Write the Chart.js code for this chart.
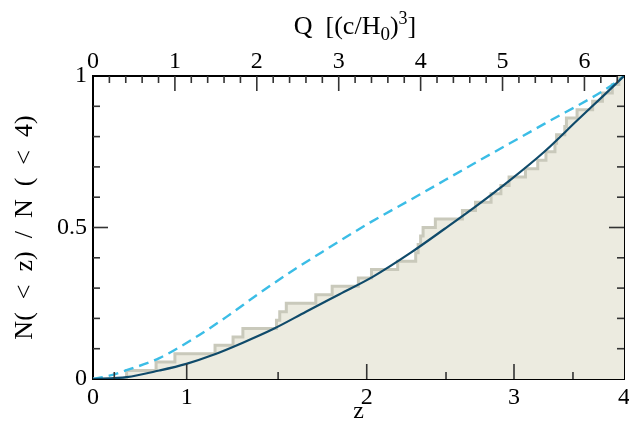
<!DOCTYPE html>
<html>
<head>
<meta charset="utf-8">
<script src="https://cdn.jsdelivr.net/npm/chart.js@4.4.1/dist/chart.umd.min.js"></script>
<style>
  html, body { margin: 0; padding: 0; background: #fff; }
  canvas { display: block; }
</style>
</head>
<body>
<canvas id="zchart" width="629" height="424"></canvas>
<script>
// x is linear in comoving volume Q; the z labels sit at Q(z)
const qMax = 6.483
const qTicks = [0, 1, 2, 3, 4, 5, 6]
const zTickLabels = ['0', '1', '2', '3', '4']
const zTickQ = [0, 1.144, 3.342, 5.14, 6.483]
const zMinorQ = [0.26, 2.26, 4.31, 5.86]
const yTicks = [0, 0.5, 1]
const yTickLabels = ['0', '0.5', '1']

// observed sample, cumulative fraction at each object
const stepQ = [0.41, 0.77, 1.00, 1.49, 1.71, 1.83, 2.24, 2.28, 2.36, 2.72, 2.92, 3.24,
  3.40, 3.72, 3.94, 3.97, 4.00, 4.03, 4.18, 4.51, 4.67, 4.86, 4.98, 5.08,
  5.28, 5.43, 5.53, 5.64, 5.66, 5.76, 5.78, 5.91, 6.10, 6.22, 6.34, 6.42]
const stepFrac = [0.028, 0.056, 0.083, 0.111, 0.139, 0.167, 0.194, 0.222, 0.25, 0.278, 0.306, 0.333,
  0.361, 0.389, 0.417, 0.444, 0.472, 0.5, 0.528, 0.556, 0.583, 0.611, 0.639, 0.667,
  0.694, 0.722, 0.75, 0.778, 0.806, 0.833, 0.861, 0.889, 0.917, 0.944, 0.972, 1]

// solid model curve
const solidQ = [0, 0.41, 0.81, 1.14, 1.47, 1.83, 2.20, 2.60, 3.01, 3.42, 3.88, 4.29, 4.69, 5.10, 5.51, 5.91, 6.24, 6.483]
const solidFrac = [0, 0.006, 0.028, 0.05, 0.08, 0.12, 0.165, 0.222, 0.28, 0.338, 0.417, 0.495, 0.573, 0.658, 0.75, 0.853, 0.937, 1]

// dashed model curve
const dashQ = [0, 0.2, 0.41, 0.81, 1.22, 1.63, 2.03, 2.44, 2.85, 3.38, 3.88, 4.69, 5.51, 6.32, 6.483]
const dashFrac = [0, 0.011, 0.029, 0.069, 0.132, 0.205, 0.283, 0.358, 0.428, 0.516, 0.592, 0.717, 0.842, 0.967, 1]

const serif = 'Liberation Serif'

const stepPts = [{x: 0, y: 0}]
stepQ.forEach((q, i) => stepPts.push({x: q, y: stepFrac[i]}))
stepPts.push({x: qMax, y: stepFrac[stepFrac.length - 1]})

const zip = (xs, ys) => xs.map((x, i) => ({x: x, y: ys[i]}))

// fixed box sizes so the plot area lands where it is in the picture
const boxSize = (w, h) => scale => {
  if (w != null) scale.width = w
  if (h != null) scale.height = h
  scale.paddingLeft = scale.paddingRight = scale.paddingTop = scale.paddingBottom = 0
}

// inward tick marks on all four sides
const tickMarks = {
  id: 'tickMarks',
  afterDraw(chart) {
    const {ctx, chartArea: a, scales} = chart
    const sx = scales.x, sy = scales.y
    const seg = (x1, y1, x2, y2) => { ctx.beginPath(); ctx.moveTo(x1, y1); ctx.lineTo(x2, y2); ctx.stroke() }
    ctx.save()
    ctx.strokeStyle = '#333'
    ctx.lineWidth = 1.6
    for (let i = 1; i * 0.2 < qMax - 0.05; i++) {
      const px = sx.getPixelForValue(i * 0.2)
      seg(px, a.top, px, a.top + (i % 5 === 0 ? 15 : 7))
    }
    zTickQ.slice(1, -1).forEach(q => {
      const px = sx.getPixelForValue(q)
      seg(px, a.bottom, px, a.bottom - 15)
    })
    zMinorQ.forEach(q => {
      const px = sx.getPixelForValue(q)
      seg(px, a.bottom, px, a.bottom - 7)
    })
    for (let i = 1; i < 10; i++) {
      const py = sy.getPixelForValue(i / 10)
      const len = i === 5 ? 15 : 7
      seg(a.left, py, a.left + len, py)
      seg(a.right, py, a.right - len, py)
    }
    ctx.restore()
  }
}

// top axis title with sub/superscript
const qTitle = {
  id: 'qTitle',
  afterDraw(chart) {
    const ctx = chart.ctx
    const parts = [['Q  [(c/H', 26, 0], ['0', 19, 6], [')', 26, 0], ['3', 18, -10], [']', 26, 0]]
    ctx.save()
    ctx.fillStyle = '#000'
    ctx.textBaseline = 'alphabetic'
    let w = 0
    parts.forEach(p => { ctx.font = p[1] + 'px "' + serif + '"'; w += ctx.measureText(p[0]).width })
    let cx = 355 - w / 2
    parts.forEach(p => {
      ctx.font = p[1] + 'px "' + serif + '"'
      ctx.fillText(p[0], cx, 34 + p[2])
      cx += ctx.measureText(p[0]).width
    })
    ctx.restore()
  }
}

const tickFont = {family: serif, size: 24}

new Chart(document.getElementById('zchart'), {
  type: 'line',
  data: {
    datasets: [
      {
        data: zip(solidQ, solidFrac),
        borderColor: '#0f4a6a',
        borderWidth: 2.2,
        pointRadius: 0,
        tension: 0.4,
        cubicInterpolationMode: 'monotone',
        fill: false,
        order: 0
      },
      {
        data: zip(dashQ, dashFrac),
        borderColor: '#3bbde6',
        borderWidth: 2.4,
        borderDash: [10, 6],
        pointRadius: 0,
        tension: 0.4,
        cubicInterpolationMode: 'monotone',
        fill: false,
        order: 1
      },
      {
        data: stepPts,
        stepped: true,
        borderColor: '#c9c9bb',
        borderWidth: 3,
        backgroundColor: '#ecebe0',
        pointRadius: 0,
        fill: 'origin',
        order: 2
      }
    ]
  },
  options: {
    responsive: false,
    animation: false,
    layout: {padding: 0},
    plugins: {legend: {display: false}, tooltip: {enabled: false}},
    scales: {
      x: {
        type: 'linear', position: 'bottom', min: 0, max: qMax, z: 1,
        grid: {display: false, drawTicks: false},
        border: {color: '#000', width: 2},
        afterBuildTicks: s => { s.ticks = zTickQ.map(v => ({value: v})) },
        ticks: {autoSkip: false, maxRotation: 0, padding: 4, color: '#000', font: tickFont,
          callback: (v, i) => zTickLabels[i]},
        title: {display: true, text: 'z', color: '#000', font: {family: serif, size: 24}, padding: {top: 0, bottom: -2}},
        afterFit: boxSize(null, 45)
      },
      x2: {
        type: 'linear', position: 'top', min: 0, max: qMax, z: 1,
        grid: {display: false, drawTicks: false},
        border: {color: '#000', width: 2},
        afterBuildTicks: s => { s.ticks = qTicks.map(v => ({value: v})) },
        ticks: {autoSkip: false, maxRotation: 0, padding: 0, color: '#000', font: tickFont},
        afterFit: boxSize(null, 76)
      },
      y: {
        type: 'linear', position: 'left', min: 0, max: 1, z: 1,
        grid: {display: false, drawTicks: false},
        border: {color: '#000', width: 2},
        afterBuildTicks: s => { s.ticks = yTicks.map(v => ({value: v})) },
        ticks: {autoSkip: false, padding: 6, color: '#000', font: tickFont,
          callback: (v, i) => yTickLabels[i]},
        title: {display: true, text: 'N(  <  z)  /  N  (  <  4)', color: '#000', font: {family: serif, size: 26}, padding: {top: 10, bottom: 0}},
        afterFit: boxSize(93, null)
      },
      y2: {
        type: 'linear', position: 'right', min: 0, max: 1, z: 1,
        grid: {display: false, drawTicks: false},
        border: {color: '#000', width: 2},
        ticks: {display: false},
        afterFit: boxSize(5, null)
      }
    }
  },
  plugins: [tickMarks, qTitle]
})
</script>
</body>
</html>
